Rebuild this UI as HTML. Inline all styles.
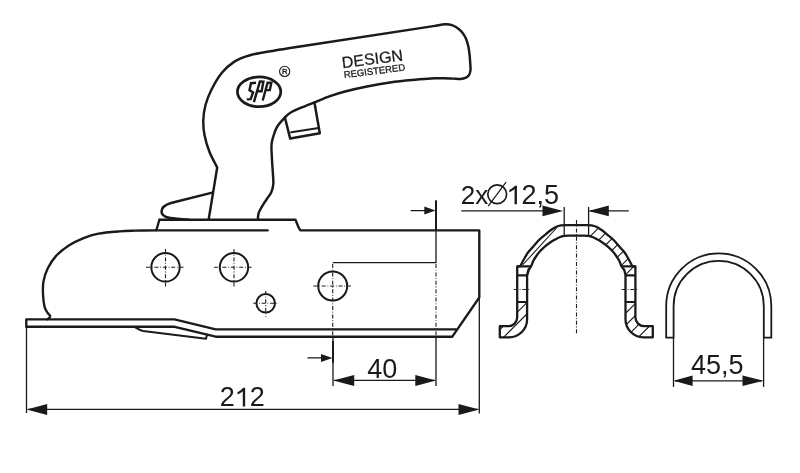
<!DOCTYPE html>
<html><head><meta charset="utf-8">
<style>
html,body{margin:0;padding:0;background:#fff;width:800px;height:473px;overflow:hidden}
svg{display:block;will-change:transform}
text{font-family:"Liberation Sans",sans-serif;fill:#1a1a1a}
</style></head><body>
<svg width="800" height="473" viewBox="0 0 800 473">
<defs>
<clipPath id="cru"><path d="M588.60,220.00 L591.60,225.40 L596.80,227.00 L601.60,230.00 L607.50,234.80 L614.10,240.50 L619.70,247.00 L624.60,252.50 L628.80,259.50 L632.40,266.30 L635.40,266.00 L635.40,275.00 L625.50,275.00 L624.30,270.00 L621.60,266.50 L619.60,261.50 L616.60,256.50 L612.60,251.30 L608.10,246.80 L603.10,243.00 L598.10,239.80 L593.10,237.20 L588.10,235.90 L588.60,235.50Z"/></clipPath>
<clipPath id="crl"><path d="M635.40,301.5 H625.50 V319.30 A18,18 0 0 0 643.50,337.30 H652.80 V326.20 H644.40 A9,9 0 0 1 635.40,317.20 Z"/></clipPath>
<clipPath id="cll"><path d="M517.20,301.5 H527.10 V319.30 A18,18 0 0 1 509.10,337.30 H499.80 V326.20 H508.20 A9,9 0 0 0 517.20,317.20 Z"/></clipPath>
</defs>
<g fill="none" stroke="#1a1a1a" stroke-linejoin="round" stroke-linecap="round">
<path stroke-width="2.45" d="M208.7,219.3 L217.2,167.5 C216.08,165.00 211.65,157.43 209.50,152.00 C207.35,146.57 205.53,140.33 204.50,135.00 C203.47,129.67 203.13,125.00 203.30,120.00 C203.47,115.00 204.17,110.00 205.50,105.00 C206.83,100.00 208.60,95.33 211.30,90.00 C214.00,84.67 217.85,77.73 221.70,73.00 C225.55,68.27 229.68,64.57 234.40,61.60 C239.12,58.63 243.23,57.05 250.00,55.20 C256.77,53.35 266.67,51.95 275.00,50.50 C283.33,49.05 295.83,47.17 300.00,46.50 L435,25.9 C436.73,25.63 442.57,24.42 445.40,24.30 C448.23,24.18 449.88,24.50 452.00,25.20 C454.12,25.90 456.27,27.12 458.10,28.50 C459.93,29.88 461.68,31.78 463.00,33.50 C464.32,35.22 465.10,36.60 466.00,38.80 C466.90,41.00 467.80,44.00 468.40,46.70 C469.00,49.40 469.30,52.35 469.60,55.00 C469.90,57.65 470.05,60.10 470.20,62.60 C470.35,65.10 470.70,67.90 470.50,70.00 C470.30,72.10 469.75,73.92 469.00,75.20 C468.25,76.48 467.42,77.07 466.00,77.70 C464.58,78.33 462.67,78.85 460.50,79.00 C458.33,79.15 455.78,78.73 453.00,78.60 C450.22,78.47 446.80,78.25 443.80,78.20 C440.80,78.15 436.47,78.28 435.00,78.30 L435,78.3 C431.17,78.58 419.50,79.30 412.00,80.00 C404.50,80.70 397.50,81.42 390.00,82.50 C382.50,83.58 374.50,85.00 367.00,86.50 C359.50,88.00 351.17,89.88 345.00,91.50 C338.83,93.12 334.87,94.48 330.00,96.20 C325.13,97.92 320.80,99.80 315.80,101.80 C310.80,103.80 304.30,106.33 300.00,108.20 C295.70,110.07 292.52,111.45 290.00,113.00 C287.48,114.55 287.07,115.17 284.90,117.50 C282.73,119.83 278.93,123.83 277.00,127.00 C275.07,130.17 274.22,133.50 273.30,136.50 C272.38,139.50 271.72,141.08 271.50,145.00 C271.28,148.92 271.75,155.00 272.00,160.00 C272.25,165.00 272.78,170.97 273.00,175.00 C273.22,179.03 273.58,181.32 273.30,184.20 C273.02,187.08 272.32,189.92 271.30,192.30 C270.28,194.68 268.53,196.50 267.20,198.50 C265.87,200.50 264.50,202.38 263.30,204.30 C262.10,206.22 260.83,208.32 260.00,210.00 C259.17,211.68 258.65,212.78 258.30,214.40 C257.95,216.02 257.97,218.82 257.90,219.70"/>
<path stroke-width="2.5" d="M284.9,117.5 L290.2,138.6 L319.8,133.3 L314.5,102.7"/>
<path stroke-width="2" d="M291.2,132.3 L318.7,128"/>
<path stroke-width="2.5" d="M212.3,192.6 L171,203 C159.5,206.5 157.5,216 170.5,218 C177,218.9 182,219.4 189,219.7"/>
<ellipse cx="259.1" cy="91.8" rx="21.7" ry="14.9" stroke-width="2.7"/>
<g stroke-width="2.4" stroke-linejoin="miter" stroke-linecap="butt"><path d="M256,82.7 L251,83.2 L249.5,90.1 L253.1,92.4 L250.6,99.2 L246.8,99.4"/><path d="M253.9,102.2 L259.9,81.5 L263.4,81.6 L261.6,91.2 L257.7,91.2"/><path d="M262.7,100.5 L267.6,82.6 L271.4,82.7 L269.8,90.1 L265.7,90.1"/></g>
<circle cx="284.65" cy="71.4" r="5.1" stroke-width="1.1"/>
<path stroke-width="2.35" d="M159.6,219.7 L295.5,219.7 C297,223 298,227.5 300.3,230.3 L479.3,230.3 L479.3,297.5 L452.3,336.7 L215.7,336.7 L173.7,326.7 L26.3,326.7 L26.3,319.3 L47.5,319.3"/>
<path stroke-width="2.35" d="M159.6,219.7 C158.2,222 157.6,228.5 155.9,230.3 C152.42,230.37 141.05,230.52 135.00,230.70 C128.95,230.88 125.70,230.90 119.60,231.40 C113.50,231.90 104.40,232.58 98.40,233.70 C92.40,234.82 88.53,236.13 83.60,238.10 C78.67,240.07 73.38,242.53 68.80,245.50 C64.22,248.47 59.62,252.07 56.10,255.90 C52.58,259.73 49.80,264.28 47.70,268.50 C45.60,272.72 44.28,276.97 43.50,281.20 C42.72,285.43 42.83,289.67 43.00,293.90 C43.17,298.13 43.72,303.43 44.50,306.60 C45.28,309.77 46.75,311.32 47.70,312.90 C48.65,314.48 50.13,315.12 50.20,316.10 C50.27,317.08 48.45,318.35 48.10,318.80"/>
<path stroke-width="2.35" d="M155.9,230.3 L267.6,230.3"/>
<path stroke-width="2.35" d="M47.5,319.3 L174.5,319.3 L215.7,329.3 L456,329.3"/>
<path stroke-width="2" d="M134,326.7 C138,329 140,330.5 143,331 L206,338.7 L207,334.8"/>
<circle cx="165.5" cy="267.3" r="14.2" stroke-width="2"/>
<circle cx="234" cy="267.3" r="14.2" stroke-width="2"/>
<circle cx="265.7" cy="303.3" r="9.3" stroke-width="2"/>
<circle cx="332.7" cy="286" r="14.5" stroke-width="2"/>
</g>
<g fill="none" stroke="#1a1a1a" stroke-width="2.3" stroke-linejoin="round">
<path d="M499.80,337.30 V326.20 H508.20 A9,9 0 0 0 517.20,317.20 V266.3 H520.2 C520.80,265.17 522.50,261.80 523.80,259.50 C525.10,257.20 526.48,254.58 528.00,252.50 C529.52,250.42 531.15,249.00 532.90,247.00 C534.65,245.00 536.47,242.53 538.50,240.50 C540.53,238.47 543.02,236.55 545.10,234.80 C547.18,233.05 549.22,231.30 551.00,230.00 C552.78,228.70 554.13,227.77 555.80,227.00 C557.47,226.23 558.97,225.72 561.00,225.40 C563.03,225.08 565.45,225.15 568.00,225.10 C570.55,225.05 573.53,225.10 576.30,225.10 C579.07,225.10 582.05,225.05 584.60,225.10 C587.15,225.15 589.57,225.08 591.60,225.40 C593.63,225.72 595.13,226.23 596.80,227.00 C598.47,227.77 599.82,228.70 601.60,230.00 C603.38,231.30 605.42,233.05 607.50,234.80 C609.58,236.55 612.07,238.47 614.10,240.50 C616.13,242.53 617.95,245.00 619.70,247.00 C621.45,249.00 623.08,250.42 624.60,252.50 C626.12,254.58 627.50,257.20 628.80,259.50 C630.10,261.80 631.80,265.17 632.40,266.30 H635.40 V317.20 A9,9 0 0 0 644.40,326.20 H652.80 V337.30 H643.50 A18,18 0 0 1 625.50,319.30 V275 L624.30,270 C623.85,269.42 622.38,267.92 621.60,266.50 C620.82,265.08 620.43,263.17 619.60,261.50 C618.77,259.83 617.77,258.20 616.60,256.50 C615.43,254.80 614.02,252.92 612.60,251.30 C611.18,249.68 609.68,248.18 608.10,246.80 C606.52,245.42 604.77,244.17 603.10,243.00 C601.43,241.83 599.77,240.77 598.10,239.80 C596.43,238.83 594.77,237.85 593.10,237.20 C591.43,236.55 589.85,236.17 588.10,235.90 C586.35,235.63 584.57,235.65 582.60,235.60 C580.63,235.55 578.40,235.60 576.30,235.60 C574.20,235.60 571.97,235.55 570.00,235.60 C568.03,235.65 566.25,235.63 564.50,235.90 C562.75,236.17 561.17,236.55 559.50,237.20 C557.83,237.85 556.17,238.83 554.50,239.80 C552.83,240.77 551.17,241.83 549.50,243.00 C547.83,244.17 546.08,245.42 544.50,246.80 C542.92,248.18 541.42,249.68 540.00,251.30 C538.58,252.92 537.17,254.80 536.00,256.50 C534.83,258.20 533.83,259.83 533.00,261.50 C532.17,263.17 531.78,265.08 531.00,266.50 C530.22,267.92 528.75,269.42 528.30,270.00 L527.10,275 V319.30 A18,18 0 0 1 509.10,337.30 Z"/>
<path stroke-width="2.2" d="M517.2,266.3 H531 M517.2,275.3 H527.5 M517.2,302 H527.1 M621.6,266.3 H635.4 M625.1,275.3 H635.4 M625.5,302 H635.4"/>
</g>
<g stroke="#1a1a1a" stroke-width="1.1" fill="none">
<g clip-path="url(#cru)"><path d="M616.5,210.0 L476.5,350.0 M628.8,210.0 L488.8,350.0 M640.6,210.0 L500.6,350.0 M652.3,210.0 L512.3,350.0 M664.5,210.0 L524.5,350.0 M676.8,210.0 L536.8,350.0 M690.2,210.0 L550.2,350.0"/></g>
<g clip-path="url(#crl)"><path d="M728.9,210.0 L588.9,350.0 M740.9,210.0 L600.9,350.0 M753.3,210.0 L613.3,350.0 M765.6,210.0 L625.6,350.0"/></g>
<g clip-path="url(#cll)"><path d="M619.5,210.0 L479.5,350.0 M630.9,210.0 L490.9,350.0"/></g>
<path d="M556.9,227.5 L522.6,265 M530.2,267.5 L527.7,275"/>
</g>
<g stroke="#1f1f1f" stroke-width="1.1" fill="none" stroke-dasharray="4,1.8,0.8,1.8">
<path d="M146,267.3 H185.5 M165.5,249 V287.5"/>
<path d="M214,267.3 H252.5 M234,249 V287.5"/>
<path d="M253.2,303.3 H278.6 M265.7,290.9 V316.8"/>
<path d="M313.3,286 H352.5 M332.7,264 V337"/>
<path d="M436,264 V337"/>
<path d="M576.5,220 V335"/>
<path d="M513.9,289.5 H530.8 M621.8,289.5 H638.7"/>
</g>
<g stroke="#1a1a1a" stroke-width="1.3" fill="none">
<path d="M26.5,326 V413 M479.3,298 V413.5 M28,409.4 H478"/>
<path d="M436,200.6 V262.6 H332.7 M436,338 V386 M333,337 V386 M334,380.4 H435"/>
<path stroke-width="2" d="M436,200.6 V230 M333,341 V362.8"/>
<path d="M410.6,210.7 H430 M307.5,357.8 H328"/>
<path d="M461.3,210.9 H560 M564.2,207 V235.5 M588.6,207 V235.5 M590,210.9 H628.8"/>
<path d="M673.5,338 V387 M763.6,338 V387 M675,380.8 H762"/>
</g>
<g fill="#1a1a1a" stroke="none">
<path d="M26.5,409.4 L47.2,403.9 L47.2,414.9Z"/><path d="M479.3,409.4 L458.5,403.9 L458.5,414.9Z"/><path d="M333.3,380.4 L354.2,374.9 L354.2,385.9Z"/><path d="M436,380.4 L415.3,374.9 L415.3,385.9Z"/><path d="M435.5,210.6 L424.3,206.6 L424.3,214.6Z"/><path d="M332.5,357.9 L321,353.9 L321,361.9Z"/><path d="M563,210.9 L542.5,205.6 L542.5,216.2Z"/><path d="M588.3,210.9 L608.8,205.6 L608.8,216.2Z"/><path d="M673.5,380.8 L692.6,375.6 L692.6,386Z"/><path d="M763.6,380.8 L742.5,375.6 L742.5,386Z"/>
</g>
<path fill="none" stroke="#1a1a1a" stroke-width="1.8" d="M666.2,337.7 V306 A52.5,52.5 0 0 1 771.3,306 V337.7 H763.8 V306 A45.1,45.1 0 0 0 673.6,306 V337.7 Z"/>
<text x="219.70" y="406.40" font-size="27.00">2</text><path fill="#1a1a1a" d="M791,0 L611,0 L611,1150 C560,1100 490,1050 400,1000 C330,960 260,930 213,912 L213,1085 C300,1125 390,1180 470,1245 C550,1310 605,1370 640,1409 L791,1409 Z" transform="translate(234.72,406.40) scale(0.01318,-0.01318)"/><text x="249.73" y="406.40" font-size="27.00">2</text>
<text x="367.20" y="377.90" font-size="27.00">4</text><text x="382.22" y="377.90" font-size="27.00">0</text>
<text x="690.90" y="374.40" font-size="27.00">4</text><text x="705.92" y="374.40" font-size="27.00">5</text><text x="720.93" y="374.40" font-size="27.00">,</text><text x="728.43" y="374.40" font-size="27.00">5</text>
<text x="460.80" y="204.10" font-size="26.00">2</text><text x="475.26" y="204.10" font-size="26.00">x</text>
<path fill="#1a1a1a" d="M791,0 L611,0 L611,1150 C560,1100 490,1050 400,1000 C330,960 260,930 213,912 L213,1085 C300,1125 390,1180 470,1245 C550,1310 605,1370 640,1409 L791,1409 Z" transform="translate(506.50,204.20) scale(0.01318,-0.01318)"/><text x="521.52" y="204.20" font-size="27.00">2</text><text x="536.53" y="204.20" font-size="27.00">,</text><text x="544.03" y="204.20" font-size="27.00">5</text>
<g fill="none" stroke="#1a1a1a" stroke-width="1.7"><circle cx="497.2" cy="194.3" r="9.4"/><path stroke-width="1.2" d="M488.2,206.1 L506.1,182.1"/></g>
<text x="284.65" y="74.4" font-size="7.6" text-anchor="middle" stroke="#1a1a1a" stroke-width="0.35">R</text>
<g transform="rotate(-7.2 343 68)">
<text x="342.6" y="68.1" font-size="16" stroke="#1a1a1a" stroke-width="0.25">DESIGN</text>
<text x="342.9" y="78.2" font-size="9.5" stroke="#1a1a1a" stroke-width="0.3">REGISTERED</text>
</g>
</svg>
</body></html>
